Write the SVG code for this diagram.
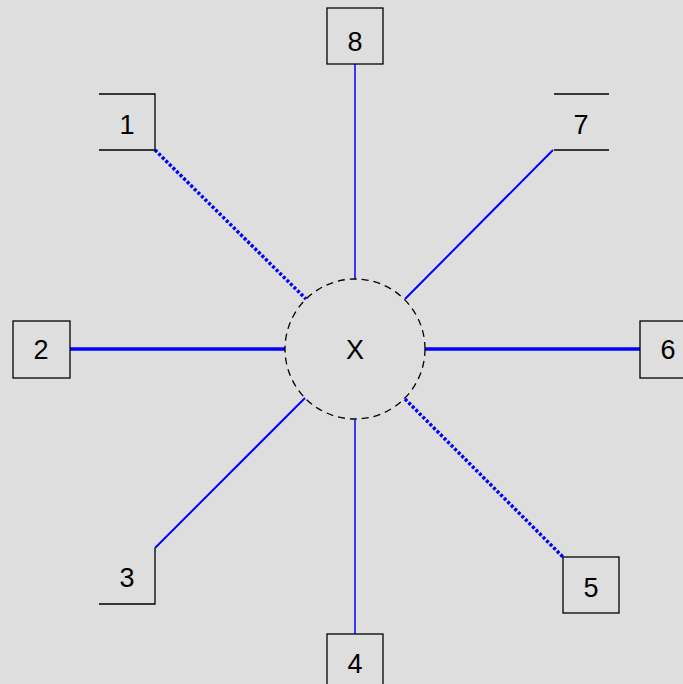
<svg xmlns="http://www.w3.org/2000/svg" width="683" height="684" viewBox="0 0 683 684">
<style>
.bx{fill:none;stroke:#000;stroke-width:1.3}
.t{font-family:"Liberation Sans",Arial,sans-serif;font-size:27px;fill:#000;text-anchor:middle;dominant-baseline:central}
.c{stroke:#0000ff;fill:none}
</style>
<rect width="683" height="684" fill="#dedede"/>
<g id="connectors">
<line class="c" x1="155" y1="150" x2="306" y2="299" stroke-width="3.5" stroke-dasharray="3 2"/>
<line class="c" x1="355" y1="64" x2="355" y2="279" stroke-width="1.5"/>
<line class="c" x1="553" y1="150" x2="405" y2="299" stroke-width="2"/>
<line class="c" x1="70" y1="349" x2="285" y2="349" stroke-width="3.5"/>
<line class="c" x1="425" y1="349" x2="640" y2="349" stroke-width="3.5"/>
<line class="c" x1="155" y1="548" x2="305" y2="398" stroke-width="2"/>
<line class="c" x1="355" y1="420" x2="355" y2="634" stroke-width="1.5"/>
<line class="c" x1="405" y1="399" x2="563" y2="557" stroke-width="3.5" stroke-dasharray="3 2"/>
</g>
<g id="nodeX">
<circle cx="355" cy="349" r="70" fill="none" stroke="#000" stroke-width="1.3" stroke-dasharray="7 5"/>
<text class="t" x="355" y="350">X</text>
</g>
<g id="node1">
<polyline class="bx" points="99,94 155,94 155,150 99,150"/>
<text class="t" x="127" y="125">1</text>
</g>
<g id="node7">
<line class="bx" x1="554" y1="94" x2="609" y2="94"/>
<line class="bx" x1="554" y1="150" x2="609" y2="150"/>
<text class="t" x="581" y="125">7</text>
</g>
<g id="node2">
<rect class="bx" x="13" y="321" width="57" height="57"/>
<text class="t" x="41" y="350">2</text>
</g>
<g id="node3">
<polyline class="bx" points="155,548 155,604 99,604"/>
<text class="t" x="127" y="578">3</text>
</g>
<g id="node4">
<rect class="bx" x="327" y="634" width="56" height="56"/>
<text class="t" x="355" y="664">4</text>
</g>
<g id="node5">
<rect class="bx" x="563" y="557" width="56" height="56"/>
<text class="t" x="591" y="588">5</text>
</g>
<g id="node6">
<rect class="bx" x="640" y="321" width="57" height="57"/>
<text class="t" x="668" y="350">6</text>
</g>
<g id="node8">
<rect class="bx" x="327" y="8" width="56" height="56"/>
<text class="t" x="355" y="42">8</text>
</g>
</svg>
